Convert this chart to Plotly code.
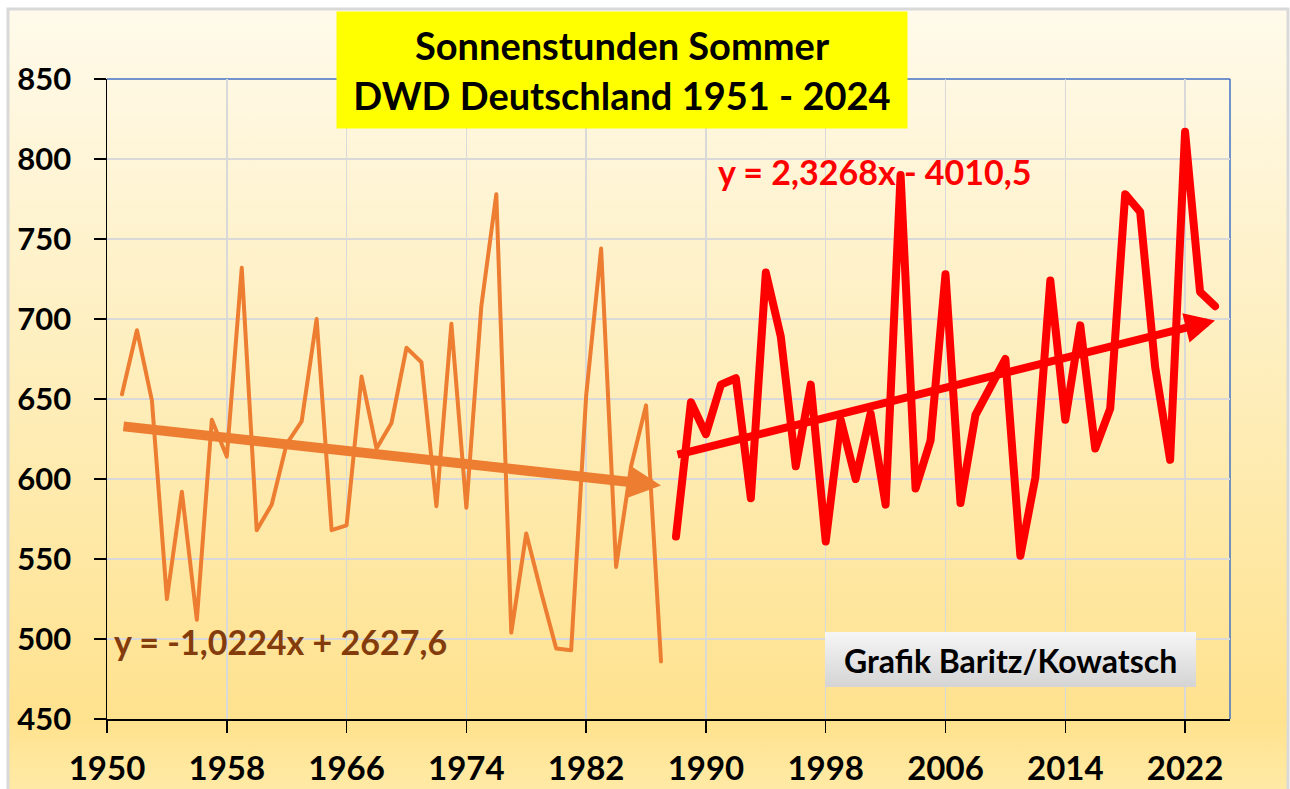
import base64
import plotly.graph_objects as go

# ---------------- data ----------------
years_old = [1951, 1952, 1953, 1954, 1955, 1956, 1957, 1958, 1959, 1960,
             1961, 1962, 1963, 1964, 1965, 1966, 1967, 1968, 1969, 1970,
             1971, 1972, 1973, 1974, 1975, 1976, 1977, 1978, 1979, 1980,
             1981, 1982, 1983, 1984, 1985, 1986, 1987]
sun_old = [653, 693, 649, 525, 592, 512, 637, 614, 732, 568,
           584, 622, 636, 700, 568, 571, 664, 619, 635, 682,
           673, 583, 697, 582, 708, 778, 504, 566, 529, 494,
           493, 652, 744, 545, 608, 646, 486]

years_new = [1988, 1989, 1990, 1991, 1992, 1993, 1994, 1995, 1996, 1997,
             1998, 1999, 2000, 2001, 2002, 2003, 2004, 2005, 2006, 2007,
             2008, 2009, 2010, 2011, 2012, 2013, 2014, 2015, 2016, 2017,
             2018, 2019, 2020, 2021, 2022, 2023, 2024]
sun_new = [564, 648, 628, 659, 663, 588, 729, 689, 608, 659,
           561, 637, 600, 641, 584, 790, 594, 624, 728, 585,
           640, 658, 675, 552, 601, 724, 637, 696, 619, 644,
           778, 767, 670, 612, 817, 717, 708]

trend_old_years = [1951, 1987]
trend_old_vals = [633, 596]
trend_new_years = [1988, 2024]
trend_new_vals = [615, 699]

eq_old = "y = -1,0224x + 2627,6"
eq_new = "y = 2,3268x - 4010,5"
title_text = "Sonnenstunden Sommer<br>DWD Deutschland 1951 - 2024"
credit_text = "Grafik Baritz/Kowatsch"

x_ticks = [1950, 1958, 1966, 1974, 1982, 1990, 1998, 2006, 2014, 2022]
y_ticks = [450, 500, 550, 600, 650, 700, 750, 800, 850]

# ---------------- style ----------------
FONT = "Lato"
ORANGE = "#ED7D31"
RED = "#FF0000"
BROWN = "#843C0C"

W, H = 1290, 789
ML, MR, MT, MB = 107, 60, 79, 70
PW = W - ML - MR
PH = H - MT - MB


def px_x(p):
    return (p - ML) / PW


def px_y(p):
    return (H - MB - p) / PH


def svg_uri(stops):
    st = "".join('<stop offset="%s" stop-color="%s"/>' % (o, c) for o, c in stops)
    svg = ('<svg xmlns="http://www.w3.org/2000/svg" width="100" height="100" '
           'preserveAspectRatio="none"><defs><linearGradient id="g" x1="0" y1="0" '
           'x2="0" y2="1">' + st + '</linearGradient></defs>'
           '<rect width="100" height="100" fill="url(#g)"/></svg>')
    return "data:image/svg+xml;base64," + base64.b64encode(svg.encode()).decode()


bg_uri = svg_uri([(0, "#FFFAEB"), (0.5, "#FEEDB8"), (0.9, "#FFE28E"), (1, "#FFEBA9")])
box_uri = svg_uri([(0, "#F6F6F6"), (1, "#D4D4D4")])

fig = go.Figure()

fig.add_trace(go.Scatter(x=years_old, y=sun_old, mode="lines",
                         line=dict(color=ORANGE, width=4), showlegend=False,
                         hoverinfo="skip"))
fig.add_trace(go.Scatter(x=years_new, y=sun_new, mode="lines",
                         line=dict(color=RED, width=8), showlegend=False,
                         hoverinfo="skip"))


def trend_arrow(xs, ys, color, width, size):
    return dict(text="", xref="x", yref="y", axref="x", ayref="y",
                x=xs[-1], y=ys[-1], ax=xs[0], ay=ys[0],
                showarrow=True, arrowhead=2, arrowsize=size, arrowwidth=width,
                arrowcolor=color, standoff=0, startstandoff=0)


axis_common = dict(
    showline=True, linecolor="black", linewidth=1.5,
    ticks="outside", ticklen=12, tickwidth=1.5, tickcolor="black",
    showgrid=True, gridcolor="#D9D9D9", gridwidth=1.5,
    zeroline=False, automargin=False,
)

fig.update_layout(
    width=W, height=H,
    margin=dict(l=ML, r=MR, t=MT, b=MB),
    paper_bgcolor="white",
    plot_bgcolor="rgba(0,0,0,0)",
    font=dict(family=FONT),
    hovermode=False,
    xaxis=dict(range=[1950, 2025], tickvals=x_ticks, ticklabelstandoff=8,
               tickfont=dict(family=FONT, size=33, color="black", weight="bold"),
               **axis_common),
    yaxis=dict(range=[450, 850], tickvals=y_ticks, ticklabelstandoff=16,
               tickfont=dict(family=FONT, size=31, color="black", weight="bold"),
               **axis_common),
    images=[
        dict(source=bg_uri, xref="paper", yref="paper",
             x=px_x(8), y=px_y(9), sizex=(1288 - 8) / PW, sizey=(800 - 9) / PH,
             xanchor="left", yanchor="top", sizing="stretch", layer="below"),
        dict(source=box_uri, xref="paper", yref="paper",
             x=px_x(825), y=px_y(632), sizex=371 / PW, sizey=55 / PH,
             xanchor="left", yanchor="top", sizing="stretch", layer="above"),
    ],
    shapes=[
        dict(type="rect", xref="paper", yref="paper",
             x0=px_x(8), x1=px_x(1288), y0=px_y(800), y1=px_y(9),
             line=dict(color="#D9D9D9", width=3), fillcolor="rgba(0,0,0,0)", layer="above"),
        dict(type="line", xref="paper", yref="paper", x0=0, x1=1, y0=1, y1=1,
             line=dict(color="#4472C4", width=1.5), layer="below"),
        dict(type="line", xref="paper", yref="paper", x0=1, x1=1, y0=0, y1=1,
             line=dict(color="#4472C4", width=1.5), layer="below"),
    ],
    annotations=[
        trend_arrow(trend_old_years, trend_old_vals, ORANGE, 10, 0.65),
        trend_arrow(trend_new_years, trend_new_vals, RED, 8, 0.75),
        dict(text=title_text, xref="paper", yref="paper",
             x=px_x(622), y=px_y(70), xanchor="center", yanchor="middle",
             showarrow=False, bgcolor="#FFFF00", width=566, height=112, borderpad=2,
             font=dict(family=FONT, size=38, color="black", weight="bold")),
        dict(text=eq_old, xref="paper", yref="paper",
             x=px_x(112), y=px_y(641), xanchor="left", yanchor="middle",
             showarrow=False,
             font=dict(family=FONT, size=34, color=BROWN, weight="bold")),
        dict(text=eq_new, xref="paper", yref="paper",
             x=px_x(716), y=px_y(172), xanchor="left", yanchor="middle",
             showarrow=False,
             font=dict(family=FONT, size=34, color=RED, weight="bold")),
        dict(text=credit_text, xref="paper", yref="paper",
             x=px_x(1010), y=px_y(660), xanchor="center", yanchor="middle",
             showarrow=False,
             font=dict(family=FONT, size=32, color="black", weight="bold")),
    ],
)

post = (
    "document.body.style.margin='0';"
    "document.body.style.overflow='hidden';"
    "var st=document.createElement('style');"
    "st.textContent='.scatterlayer path.js-line{stroke-linejoin:round;stroke-linecap:round;}';"
    "document.head.appendChild(st);"
)

fig.write_html("out.html", post_script=post,
               config={"displayModeBar": False, "staticPlot": True})
